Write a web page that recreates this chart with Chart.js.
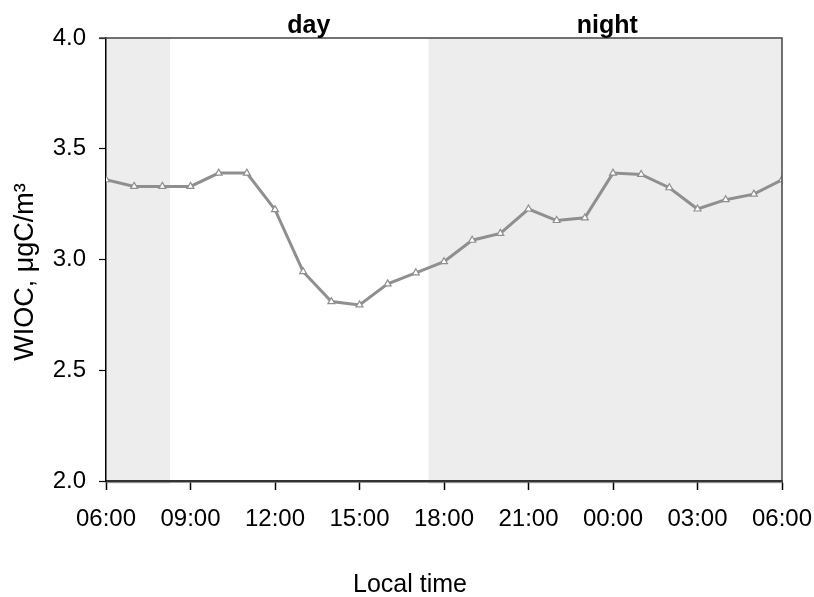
<!DOCTYPE html>
<html>
<head>
<meta charset="utf-8">
<script src="https://cdn.jsdelivr.net/npm/chart.js@4/dist/chart.umd.min.js"></script>
<style>
  html, body { margin: 0; padding: 0; background: #fff; }
  #wrap { width: 814px; height: 597px; }
</style>
</head>
<body>
<div id="wrap"><canvas id="c" width="814" height="597"></canvas></div>
<script>
// Hours elapsed since 06:00 (local time)
const hours = [0,1,2,3,4,5,6,7,8,9,10,11,12,13,14,15,16,17,18,19,20,21,22,23,24];
// WIOC concentration, µgC/m3
const wioc = [3.36, 3.33, 3.33, 3.33, 3.39, 3.39, 3.225, 2.945, 2.81, 2.795, 2.89, 2.94,
              2.99, 3.087, 3.118, 3.228, 3.176, 3.188, 3.39, 3.384, 3.324, 3.228, 3.27, 3.295, 3.36];
// x tick labels every 3 hours
const timeLabels = ['06:00','09:00','12:00','15:00','18:00','21:00','00:00','03:00','06:00'];
// y tick values
const yTicks = [2.0, 2.5, 3.0, 3.5, 4.0];
// dark (night) periods, hours since 06:00
const nightStart = [0, 11.45];
const nightEnd = [2.27, 24];
// period labels and their centre (hours since 06:00)
const periodNames = ['day', 'night'];
const periodCentres = [7.2, 17.8];
const xTitle = 'Local time';
const yTitle = 'WIOC, μgC/m³';

const FONT = '"Liberation Sans", Arial, Helvetica, sans-serif';

const shadePlugin = {
  id: 'shade',
  beforeDraw(chart) {
    const {ctx, chartArea: a, scales: {x}} = chart;
    ctx.save();
    ctx.fillStyle = '#ededed';
    for (let i = 0; i < nightStart.length; i++) {
      const x0 = x.getPixelForValue(nightStart[i]);
      const x1 = x.getPixelForValue(nightEnd[i]);
      ctx.fillRect(x0, a.top, x1 - x0, a.bottom - a.top + 3);
    }
    ctx.restore();
  },
  afterDatasetsDraw(chart) {
    const {ctx, chartArea: a, scales: {x}} = chart;
    ctx.save();
    ctx.strokeStyle = '#444';
    ctx.lineWidth = 1.5;
    ctx.beginPath();
    ctx.moveTo(a.left - 7, a.top);
    ctx.lineTo(a.right, a.top);
    ctx.lineTo(a.right, a.bottom);
    ctx.stroke();
    ctx.fillStyle = '#000';
    ctx.font = 'bold 25px ' + FONT;
    ctx.textAlign = 'center';
    ctx.textBaseline = 'alphabetic';
    for (let i = 0; i < periodNames.length; i++) {
      ctx.fillText(periodNames[i], x.getPixelForValue(periodCentres[i]), a.top - 5);
    }
    // axis titles
    ctx.font = '25px ' + FONT;
    ctx.fillText(xTitle, 410, 592);
    ctx.save();
    ctx.translate(33, 272);
    ctx.rotate(-Math.PI / 2);
    ctx.font = '27px ' + FONT;
    ctx.fillText(yTitle, 0, 0);
    ctx.restore();
    ctx.restore();
  }
};

new Chart(document.getElementById('c'), {
  type: 'line',
  data: {
    datasets: [{
      data: hours.map((h, i) => ({x: h, y: wioc[i]})),
      borderColor: '#8f8f8f',
      borderWidth: 3,
      pointStyle: 'triangle',
      pointRadius: 4,
      pointBorderWidth: 1.2,
      pointBackgroundColor: '#ffffff',
      pointBorderColor: '#8f8f8f',
      tension: 0
    }]
  },
  options: {
    responsive: false,
    animation: false,
    devicePixelRatio: 1,
    layout: { padding: { top: 38, right: 32, left: 0, bottom: 0 } },
    plugins: { legend: { display: false }, tooltip: { enabled: false } },
    scales: {
      x: {
        type: 'linear',
        min: 0, max: 24,
        afterFit(s) { s.height = 116; s.paddingLeft = 0; s.paddingRight = 0; },
        afterBuildTicks(s) { s.ticks = timeLabels.map((_, i) => ({value: i * 3})); },
        ticks: {
          callback: (v) => timeLabels[Math.round(v / 3)],
          font: { family: FONT, size: 24 },
          color: '#000',
          padding: 15,
          maxRotation: 0,
          autoSkip: false
        },
        grid: { drawOnChartArea: false, tickLength: 9, color: '#000', tickWidth: 1.5 },
        border: { color: '#333', width: 2.5 }
      },
      y: {
        min: 2, max: 4,
        afterFit(s) { s.width = 106; s.paddingTop = 0; s.paddingBottom = 0; },
        afterBuildTicks(s) { s.ticks = yTicks.map(v => ({value: v})); },
        ticks: {
          callback: (v) => v.toFixed(1),
          font: { family: FONT, size: 24 },
          color: '#000',
          padding: 13
        },
        grid: { drawOnChartArea: false, tickLength: 7, color: '#000', tickWidth: 1.2 },
        border: { color: '#000', width: 1.5 }
      }
    }
  },
  plugins: [shadePlugin]
});
</script>
</body>
</html>
